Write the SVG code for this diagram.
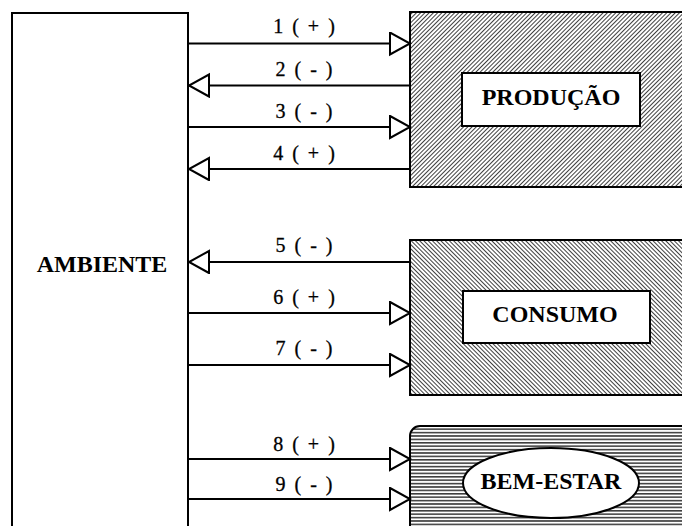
<svg xmlns="http://www.w3.org/2000/svg" width="682" height="526" viewBox="0 0 682 526">
<style>
.box{stroke:#000;stroke-width:2;}
.title{font-family:"Liberation Serif","Times New Roman",serif;font-weight:bold;font-size:24px;fill:#000;text-anchor:middle;}
.lbl{font-family:"Liberation Serif","Times New Roman",serif;font-size:20px;fill:#000;stroke:#000;stroke-width:0.3px;text-anchor:middle;letter-spacing:2px;}
.conn line{stroke:#000;stroke-width:2;}
</style>
<defs>
<pattern id="hatchF" patternUnits="userSpaceOnUse" width="3" height="3" patternTransform="rotate(45)">
<rect width="3" height="3" fill="#fff"/>
<line x1="0" y1="0" x2="0" y2="3" stroke="#000" stroke-width="1.5"/>
</pattern>
<pattern id="hatchB" patternUnits="userSpaceOnUse" width="3" height="3" patternTransform="rotate(-45)">
<rect width="3" height="3" fill="#fff"/>
<line x1="0" y1="0" x2="0" y2="3" stroke="#000" stroke-width="1.5"/>
</pattern>
<pattern id="hatchH" patternUnits="userSpaceOnUse" width="8" height="3.4">
<rect width="8" height="3.4" fill="#fff"/>
<line x1="0" y1="0.8" x2="8" y2="0.8" stroke="#000" stroke-width="1.2"/>
</pattern>
<marker id="arr" markerUnits="userSpaceOnUse" markerWidth="24" markerHeight="26" refX="21" refY="12" orient="auto">
<path d="M1,1 L21,12 L1,23 Z" fill="#fff" stroke="#000" stroke-width="2" stroke-linejoin="miter"/>
</marker>
</defs>

<g id="ambiente">
<rect class="box" x="12" y="13" width="176" height="530" fill="#fff"/>
<text class="title" x="102" y="272">AMBIENTE</text>
</g>

<g id="producao">
<rect class="box" x="410" y="12" width="290" height="175" fill="url(#hatchF)"/>
<rect class="box" x="462" y="73" width="178" height="53" fill="#fff"/>
<text class="title" x="551" y="105">PRODUÇÃO</text>
</g>

<g id="consumo">
<rect class="box" x="410" y="240" width="290" height="155" fill="url(#hatchB)"/>
<rect class="box" x="463" y="291" width="187" height="52" fill="#fff"/>
<text class="title" x="555" y="322">CONSUMO</text>
</g>

<g id="bemestar">
<rect class="box" x="410" y="426" width="300" height="140" rx="10" ry="10" fill="url(#hatchH)"/>
<ellipse class="box" cx="551" cy="483" rx="88" ry="35" fill="#fff"/>
<text class="title" x="551" y="489">BEM-ESTAR</text>
</g>

<g id="connectors" class="conn">
<line x1="188" y1="43.5" x2="410" y2="43.5" marker-end="url(#arr)"/>
<line x1="410" y1="85.5" x2="189" y2="85.5" marker-end="url(#arr)"/>
<line x1="188" y1="127" x2="410" y2="127" marker-end="url(#arr)"/>
<line x1="410" y1="169" x2="189" y2="169" marker-end="url(#arr)"/>
<line x1="410" y1="262" x2="189" y2="262" marker-end="url(#arr)"/>
<line x1="188" y1="313" x2="410" y2="313" marker-end="url(#arr)"/>
<line x1="188" y1="365" x2="410" y2="365" marker-end="url(#arr)"/>
<line x1="188" y1="459" x2="410" y2="459" marker-end="url(#arr)"/>
<line x1="188" y1="499" x2="410" y2="499" marker-end="url(#arr)"/>
</g>

<g id="labels">
<text class="lbl" x="305" y="33">1 ( + )</text>
<text class="lbl" x="305" y="76">2 ( - )</text>
<text class="lbl" x="305" y="118">3 ( - )</text>
<text class="lbl" x="305" y="160">4 ( + )</text>
<text class="lbl" x="305" y="252">5 ( - )</text>
<text class="lbl" x="305" y="304">6 ( + )</text>
<text class="lbl" x="305" y="355">7 ( - )</text>
<text class="lbl" x="305" y="451">8 ( + )</text>
<text class="lbl" x="305" y="491">9 ( - )</text>
</g>
</svg>
